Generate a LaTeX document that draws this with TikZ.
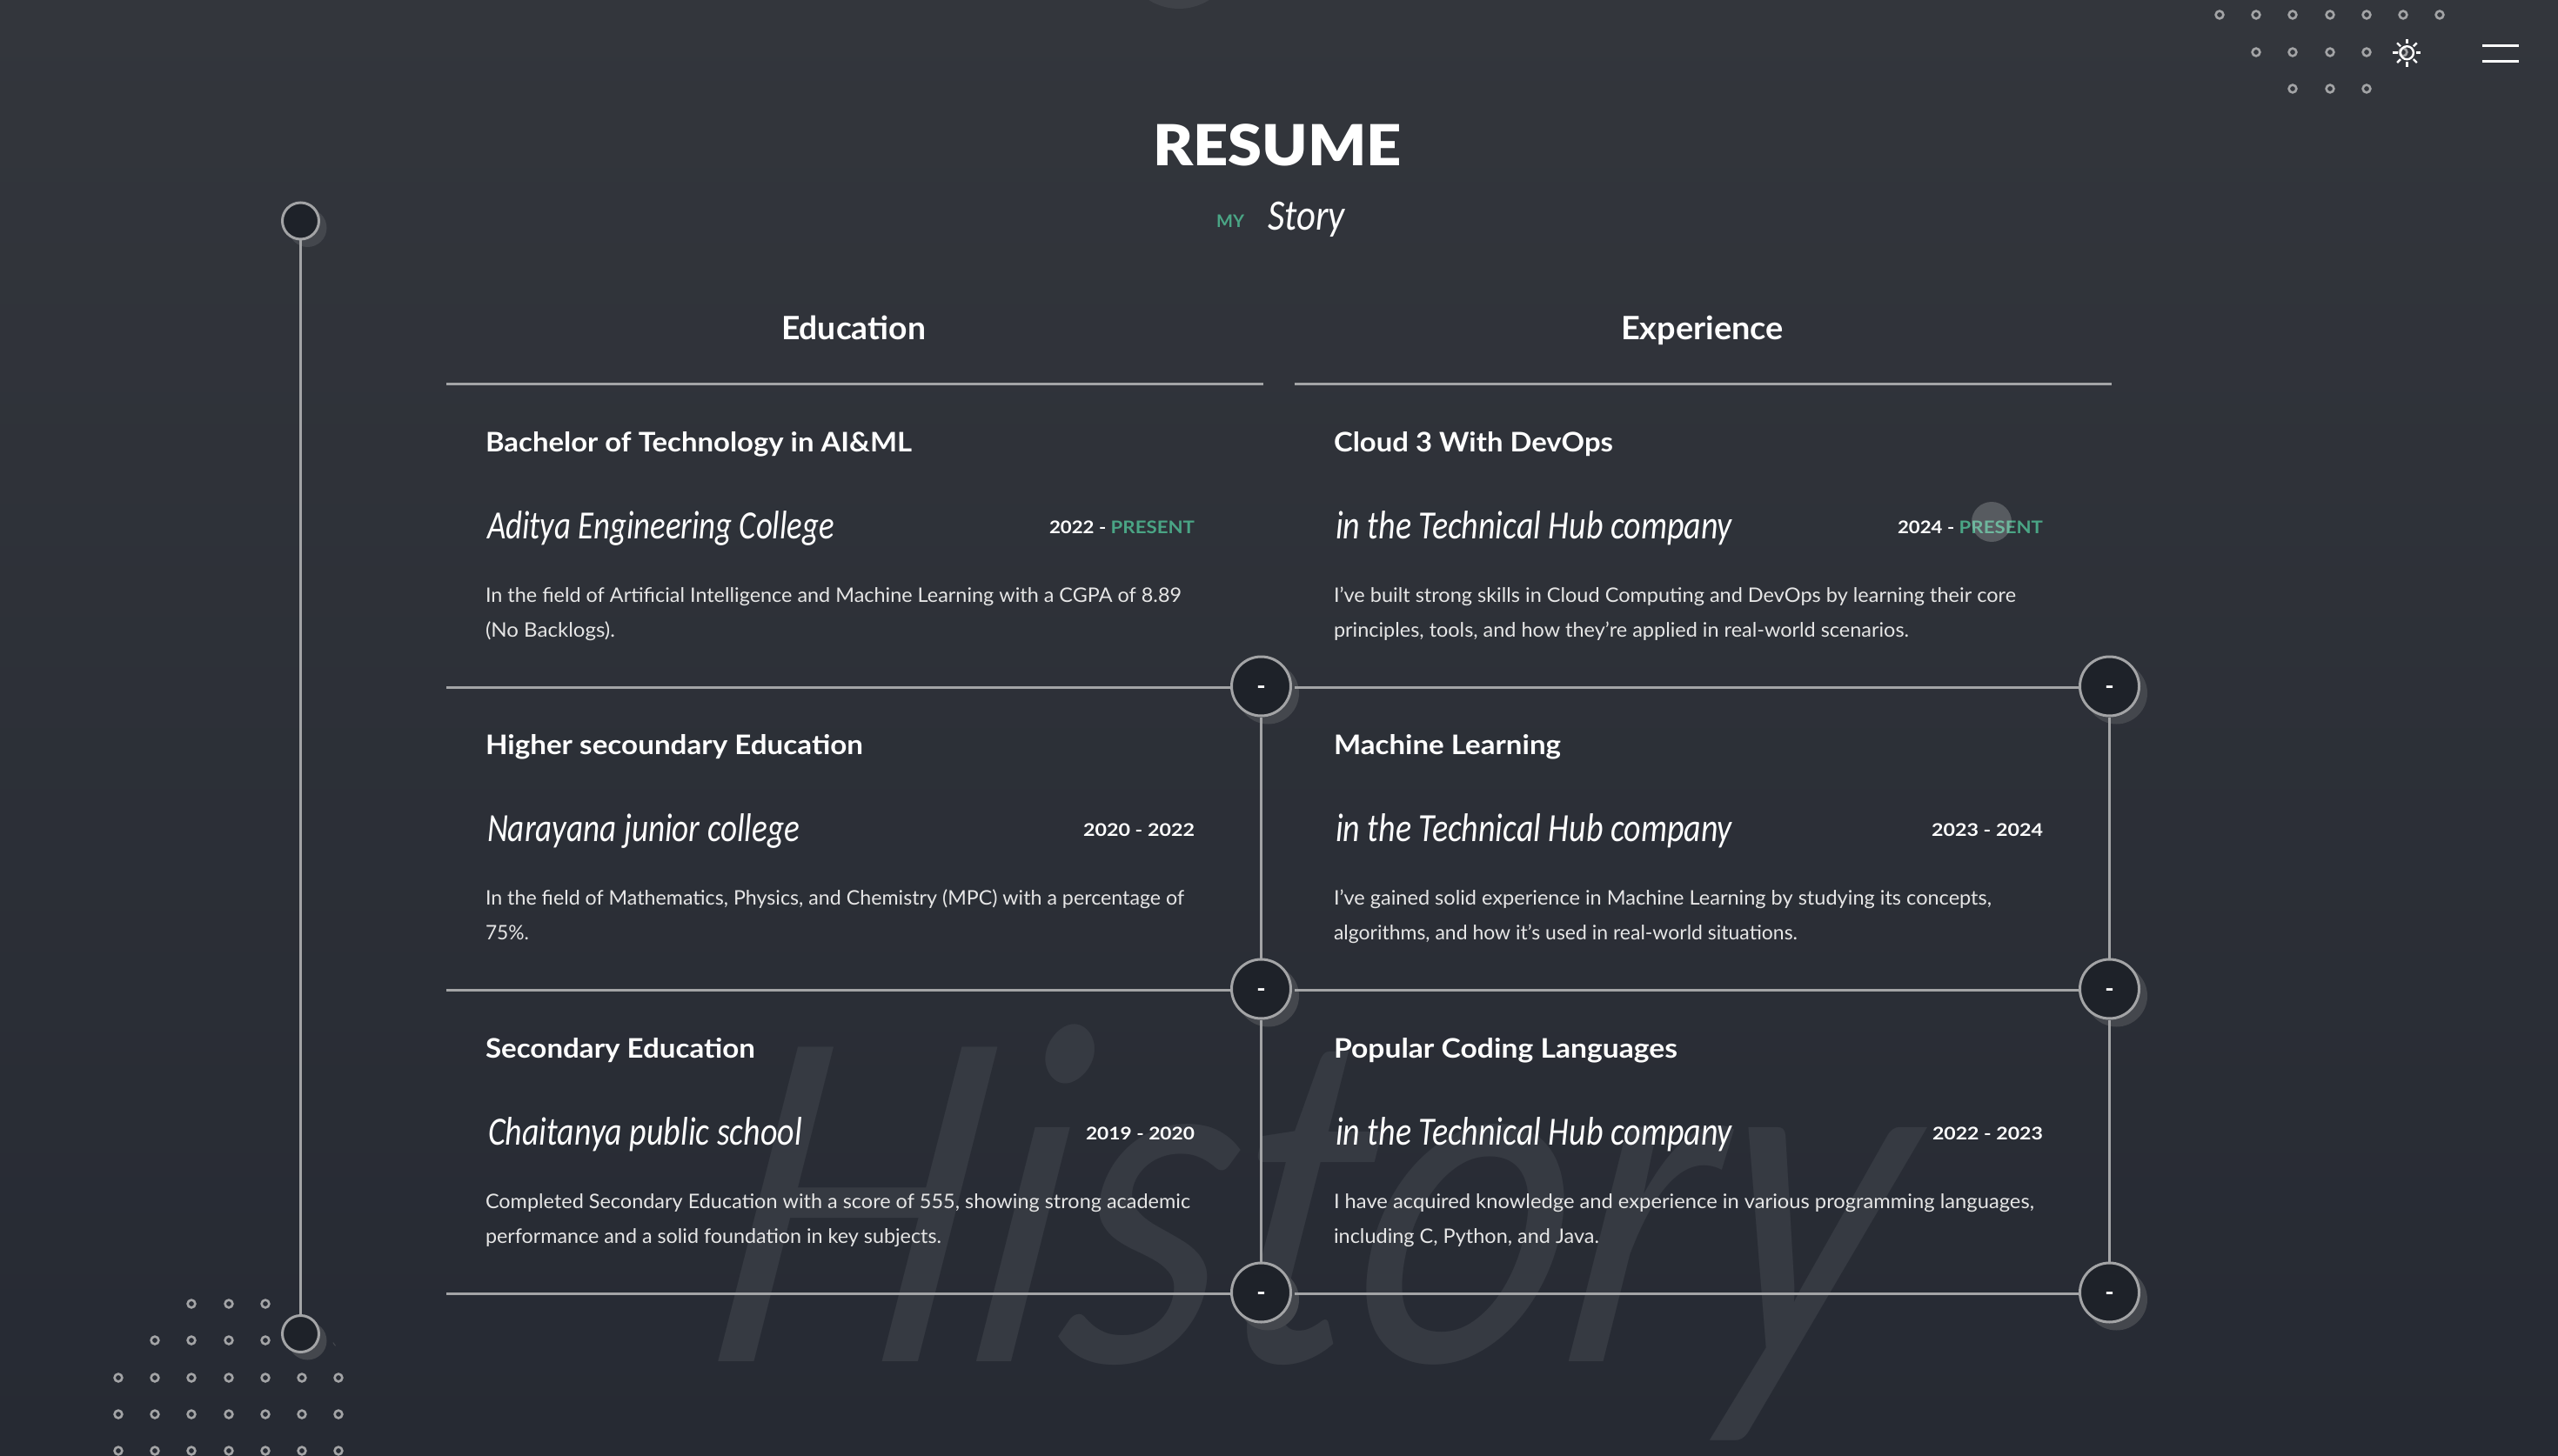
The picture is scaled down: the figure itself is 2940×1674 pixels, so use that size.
\documentclass[tikz,border=0pt]{standalone}
\usepackage{fontspec}
\usepackage{graphicx}
\usetikzlibrary{calc}
\setmainfont{Lato}
\newfontfamily\hand{Carlito}
\newfontfamily\blackf{Lato Black}
\definecolor{bgtop}{HTML}{33363C}
\definecolor{bgbot}{HTML}{262A33}
\definecolor{linec}{HTML}{A3A4A6}
\definecolor{hubfill}{HTML}{1E2229}
\definecolor{shadowc}{HTML}{44474D}
\definecolor{accent}{HTML}{4AA585}
\definecolor{bodyc}{HTML}{E6E6E6}
\definecolor{markc}{HTML}{363A42}
\newsavebox\fwbox
\newlength\fwlen
\newcommand\fw[2]{\sbox\fwbox{#2}\setlength\fwlen{\wd\fwbox}\pgfmathsetmacro\fwx{#1*0.5/\fwlen}\scalebox{\fwx}[1]{\usebox\fwbox}}
\newcommand\hubdash{\raisebox{-4.5pt}[0pt][0pt]{-}}
\tikzset{
  x=0.5pt,y=-0.5pt,
  txt/.style={anchor=base west,inner sep=0pt,outer sep=0pt,text=white},
  headt/.style={txt,font=\fontsize{18.5}{19}\selectfont\bfseries},
  titlet/.style={txt,font=\fontsize{15.5}{16}\selectfont\bfseries},
  scriptt/.style={txt,font=\fontsize{23}{24}\selectfont\hand\itshape},
  datet/.style={txt,font=\fontsize{10}{11}\selectfont\bfseries},
  desct/.style={txt,font=\fontsize{11.5}{12}\selectfont,text=bodyc},
  hub/.style={circle,draw=linec,fill=hubfill,line width=1.5pt,minimum size=34pt,inner sep=0pt,text=white,font=\fontsize{14}{14}\selectfont\bfseries},
  smallhub/.style={circle,draw=linec,fill=hubfill,line width=1.5pt,minimum size=21pt,inner sep=0pt},
  rule/.style={draw=linec,line width=1.5pt},
  ring/.style={draw=linec,line width=1.3pt},
  sunray/.style={draw=white,line width=1.2pt}
}
\begin{document}
\begin{tikzpicture}
\useasboundingbox (0,0) rectangle (2940,1674);
\shade[top color=bgtop,bottom color=bgbot] (0,0) rectangle (2940,1674);
% top-centre blob
\fill[color=shadowc!70!bgtop] (1355,-55) circle[radius=65];
% watermark
\begin{scope}[shift={(805,1565)},xslant=0.15,yscale=1.15]
\node[txt,transform shape,font=\fontsize{245}{245}\selectfont\hand\itshape,text=markc] (wm) at (0,0) {\fw{1360}{History}};
\end{scope}
% decorative dots
\foreach \x in {2551,2593,2635,2678,2720,2762,2804} \draw[ring] (\x,17) circle[radius=4.4];
\foreach \x in {2593,2635,2678,2720,2762} \draw[ring] (\x,60) circle[radius=4.4];
\foreach \x in {2635,2678,2720} \draw[ring] (\x,102) circle[radius=4.4];
\foreach \x in {220,263,305} \draw[ring] (\x,1499) circle[radius=4.4];
\foreach \x in {178,220,263,305} \draw[ring] (\x,1541) circle[radius=4.4];
\foreach \y in {1584,1626,1668} \foreach \x in {136,178,220,263,305,347,389} \draw[ring] (\x,\y) circle[radius=4.4];
% sun icon
\draw[sunray] (2766.4,60.7) circle[radius=7.5];
\foreach \a in {0,45,...,315} \draw[sunray] ($(2766.4,60.7)+(\a:10.5)$) -- ($(2766.4,60.7)+(\a:16)$);
% hamburger
\coordinate (ha) at (2853,52.5); \coordinate (hb) at (2895,52.5);
\coordinate (hc) at (2853,70.5); \coordinate (hd) at (2895,70.5);
\draw[draw=white,line width=1.5pt] (ha) -- (hb);
\draw[draw=white,line width=1.5pt] (hc) -- (hd);
% heading
\node[txt,font=\fontsize{32.5}{33}\selectfont\blackf] (resume) at (1325,191) {\fw{286}{RESUME}};
\node[txt,font=\fontsize{10}{11}\selectfont\bfseries,text=accent] (my) at (1398,262) {\fw{32}{MY}};
\node[scriptt,font=\fontsize{25}{26}\selectfont\hand\itshape] (story) at (1457,265) {\fw{89}{Story}};
\node[headt] (hedu) at (898,391) {\fw{166}{Education}};
\node[headt] (hexp) at (1863,391) {\fw{187}{Experience}};
% shadows
\foreach \cx/\cy in {1449.5/789,1449.5/1137,1449.5/1486,2424.5/789,2424.5/1137,2424.5/1486}
  \fill[shadowc] (\cx+8,\cy+8) circle[radius=35.5];
\foreach \cx/\cy in {345.5/254,345.5/1533.5}
  \fill[shadowc] (\cx+8,\cy+8) circle[radius=22];
\fill[shadowc] (383,1543) -- (386,1547) -- (385,1547.5) -- (382.5,1544) -- cycle;
% hubs
\node[smallhub] (t1) at (345.5,254) {};
\node[smallhub] (t2) at (345.5,1533.5) {};
\node[hub] (l1) at (1449.5,789) {\hubdash};
\node[hub] (l2) at (1449.5,1137) {\hubdash};
\node[hub] (l3) at (1449.5,1486) {\hubdash};
\node[hub] (r1) at (2424.5,789) {\hubdash};
\node[hub] (r2) at (2424.5,1137) {\hubdash};
\node[hub] (r3) at (2424.5,1486) {\hubdash};
% rules
\coordinate (a0) at (513,441.5); \coordinate (a0e) at (1452,441.5);
\coordinate (b0) at (1488,441.5); \coordinate (b0e) at (2427,441.5);
\coordinate (a1) at (513,790); \coordinate (a2) at (513,1138); \coordinate (a3) at (513,1487);
\coordinate (b1) at (1488,790); \coordinate (b2) at (1488,1138); \coordinate (b3) at (1488,1487);
\draw[rule] (a0) -- (a0e);
\draw[rule] (b0) -- (b0e);
\draw[rule] (a1) -- (a1 -| l1.west);
\draw[rule] (a2) -- (a2 -| l2.west);
\draw[rule] (a3) -- (a3 -| l3.west);
\draw[rule] (b1) -- (b1 -| r1.west);
\draw[rule] (b2) -- (b2 -| r2.west);
\draw[rule] (b3) -- (b3 -| r3.west);
\draw[rule] (l1.south) -- (l2.north);
\draw[rule] (l2.south) -- (l3.north);
\draw[rule] (r1.south) -- (r2.north);
\draw[rule] (r2.south) -- (r3.north);
\draw[rule] (t1.south) -- (t2.north);
% --- left column
\node[titlet] (ea) at (558,519) {\fw{490}{Bachelor of Technology in AI\&ML}};
\node[scriptt] (eb) at (560,619) {\fw{399}{Aditya Engineering College}};
\node[datet] (ec) at (1206,613) {\fw{167}{2022 - \textcolor{accent}{PRESENT}}};
\node[desct] (ed) at (558,692) {\fw{800}{In the field of Artificial Intelligence and Machine Learning with a CGPA of 8.89}};
\node[desct] (ee) at (558,732) {\fw{149}{(No Backlogs).}};
\node[titlet] (fa) at (558,867) {\fw{434}{Higher secoundary Education}};
\node[scriptt] (fb) at (560,967) {\fw{359}{Narayana junior college}};
\node[datet] (fc) at (1245,961) {\fw{128}{2020 - 2022}};
\node[desct] (fd) at (558,1040) {\fw{803}{In the field of Mathematics, Physics, and Chemistry (MPC) with a percentage of}};
\node[desct] (fe) at (558,1080) {\fw{50}{75\%.}};
\node[titlet] (ga) at (558,1216) {\fw{310}{Secondary Education}};
\node[scriptt] (gb) at (561,1316) {\fw{361}{Chaitanya public school}};
\node[datet] (gc) at (1248,1310) {\fw{125}{2019 - 2020}};
\node[desct] (gd) at (558,1389) {\fw{810}{Completed Secondary Education with a score of 555, showing strong academic}};
\node[desct] (ge) at (558,1429) {\fw{524}{performance and a solid foundation in key subjects.}};
% --- right column
\node[titlet] (ha1) at (1533,519) {\fw{321}{Cloud 3 With DevOps}};
\node[scriptt] (hb1) at (1535,619) {\fw{456}{in the Technical Hub company}};
\node[datet] (hc1) at (2181,613) {\fw{167}{2024 - \textcolor{accent}{PRESENT}}};
\node[desct] (hd1) at (1533,692) {\fw{784}{I’ve built strong skills in Cloud Computing and DevOps by learning their core}};
\node[desct] (he1) at (1533,732) {\fw{661}{principles, tools, and how they’re applied in real-world scenarios.}};
\node[titlet] (ia) at (1533,867) {\fw{261}{Machine Learning}};
\node[scriptt] (ib) at (1535,967) {\fw{456}{in the Technical Hub company}};
\node[datet] (ic) at (2220,961) {\fw{128}{2023 - 2024}};
\node[desct] (id) at (1533,1040) {\fw{756}{I’ve gained solid experience in Machine Learning by studying its concepts,}};
\node[desct] (ie) at (1533,1080) {\fw{533}{algorithms, and how it’s used in real-world situations.}};
\node[titlet] (ja) at (1533,1216) {\fw{395}{Popular Coding Languages}};
\node[scriptt] (jb) at (1535,1316) {\fw{456}{in the Technical Hub company}};
\node[datet] (jc) at (2221,1310) {\fw{127}{2022 - 2023}};
\node[desct] (jd) at (1533,1389) {\fw{805}{I have acquired knowledge and experience in various programming languages,}};
\node[desct] (je) at (1533,1429) {\fw{305}{including C, Python, and Java.}};
% cursor
\fill[white,opacity=0.2] (2289,600) circle[radius=23];
\end{tikzpicture}
\end{document}
